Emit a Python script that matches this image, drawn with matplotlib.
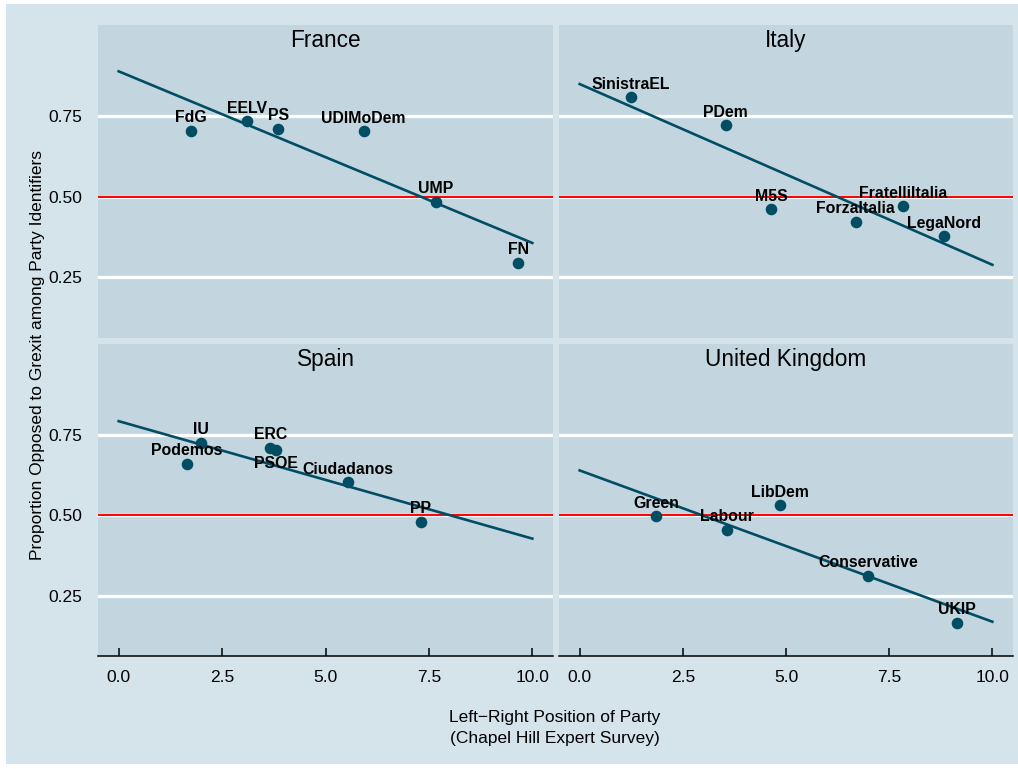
import numpy as np
import matplotlib.pyplot as plt

plt.rcParams['font.family'] = ['Liberation Sans', 'DejaVu Sans']

# party positions (CHES left-right) and share opposed to Grexit
france_parties = ["FdG", "EELV", "PS", "UDIMoDem", "UMP", "FN"]
france_lr = [1.75, 3.11, 3.86, 5.92, 7.67, 9.66]
france_opp = [0.705, 0.733, 0.711, 0.702, 0.484, 0.295]

italy_parties = ["SinistraEL", "PDem", "M5S", "ForzaItalia", "FratelliItalia", "LegaNord"]
italy_lr = [1.25, 3.54, 4.64, 6.69, 7.83, 8.83]
italy_opp = [0.808, 0.721, 0.461, 0.421, 0.470, 0.377]

spain_parties = ["IU", "Podemos", "ERC", "PSOE", "Ciudadanos", "PP"]
spain_lr = [1.99, 1.65, 3.67, 3.80, 5.54, 7.30]
spain_opp = [0.724, 0.659, 0.710, 0.704, 0.602, 0.479]

uk_parties = ["Green", "Labour", "LibDem", "Conservative", "UKIP"]
uk_lr = [1.85, 3.56, 4.85, 6.99, 9.15]
uk_opp = [0.496, 0.453, 0.530, 0.310, 0.164]

x_ticks = [0.0, 2.5, 5.0, 7.5, 10.0]
y_ticks = [0.25, 0.50, 0.75]
labels_below = ["PSOE"]

BG = '#d5e4eb'
PANEL = '#c3d6df'
DARK = '#014d64'

W, H = 1018, 769
fig = plt.figure(figsize=(W / 100, H / 100), dpi=100, facecolor='white')
fig.patches.append(plt.Rectangle((6 / W, 5 / H), 1 - 6 / W, 1 - 9 / H,
                                 transform=fig.transFigure, facecolor=BG,
                                 edgecolor='none', zorder=-10))


def px_box(x0, y0, x1, y1):
    return [x0 / W, 1 - y1 / H, (x1 - x0) / W, (y1 - y0) / H]


panels = [
    ("France", france_parties, france_lr, france_opp, (98, 25, 553, 338)),
    ("Italy", italy_parties, italy_lr, italy_opp, (559, 25, 1013, 338)),
    ("Spain", spain_parties, spain_lr, spain_opp, (98, 344, 553, 656)),
    ("United Kingdom", uk_parties, uk_lr, uk_opp, (559, 344, 1013, 656)),
]

for i, (country, parties, lr, opp, box) in enumerate(panels):
    ax = fig.add_axes(px_box(*box))
    ax.set_facecolor(PANEL)
    for s in ax.spines.values():
        s.set_visible(False)
    ax.set_xlim(-0.5, 10.5)
    ax.set_ylim(0.062, 1.032)

    ax.set_yticks(y_ticks)
    ax.set_yticklabels([f"{v:.2f}" for v in y_ticks])
    ax.set_xticks(x_ticks)
    ax.set_xticklabels([f"{v:.1f}" for v in x_ticks])
    ax.grid(axis='y', color='white', lw=2.3, zorder=0)
    ax.grid(axis='x', visible=False)
    ax.set_axisbelow(True)
    ax.axhline(0.5, color='red', lw=1.4, zorder=1)

    ax.tick_params(axis='y', length=0, pad=11, labelsize=12.5, labelcolor='black')
    if i % 2 == 1:
        ax.tick_params(axis='y', labelleft=False)

    if i < 2:
        ax.tick_params(axis='x', bottom=False, labelbottom=False)
    else:
        ax.spines['bottom'].set_visible(True)
        ax.spines['bottom'].set_color('black')
        ax.spines['bottom'].set_linewidth(1.1)
        ax.tick_params(axis='x', direction='in', length=6, width=1.1,
                       color='black', pad=10, labelsize=12.5, labelcolor='black')

    # linear fit drawn across the full 0-10 scale
    slope, intercept = np.polyfit(lr, opp, 1)
    xs = np.array([0.0, 10.0])
    ax.plot(xs, intercept + slope * xs, color=DARK, lw=1.9, zorder=2)
    ax.scatter(lr, opp, s=70, color=DARK, zorder=3, linewidths=0)

    for name, x, y in zip(parties, lr, opp):
        dy = -13 if name in labels_below else 6.3
        ax.annotate(name, (x, y), xytext=(0, dy), textcoords='offset points',
                    ha='center', va='baseline', fontsize=11.4,
                    fontweight='bold', color='black', zorder=4)

    ax.text(0.5, 0.951, country, transform=ax.transAxes, ha='center',
            va='center', fontsize=16.3, color='black')

fig.text(37.5 / W, 1 - 355 / H,
         "Proportion Opposed to Grexit among Party Identifiers",
         rotation=90, ha='center', va='center', fontsize=12.5)
fig.text(555 / W, 1 - 728 / H,
         "Left\u2212Right Position of Party\n(Chapel Hill Expert Survey)",
         ha='center', va='center', fontsize=12.5, linespacing=1.5)

fig.savefig('out.png', dpi=100)
